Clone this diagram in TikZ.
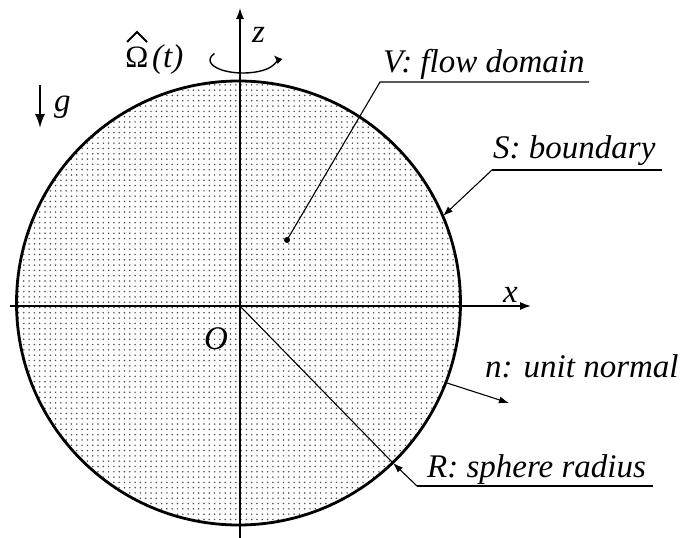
\documentclass[tikz,border=0pt]{standalone}
\usepackage{fontspec}
\setmainfont{Liberation Serif}
\usetikzlibrary{arrows.meta,patterns}
\pgfdeclarepatternformonly{sdots}{\pgfqpoint{-1pt}{-1pt}}{\pgfqpoint{6.3pt}{6.3pt}}{\pgfqpoint{5.3pt}{5.3pt}}{%
  \pgfpathcircle{\pgfqpoint{2.6pt}{2.6pt}}{0.85pt}\pgfusepath{fill}}
\tikzset{
  lbl/.style={font=\fontsize{33}{36}\selectfont\itshape, inner sep=0pt, anchor=base west},
  axis/.style={line width=1.4pt, -{Latex[length=11pt,width=8pt]}},
  leader/.style={line width=1.1pt},
  pointer/.style={line width=1.1pt, -{Latex[length=10pt,width=7pt]}},
}
\begin{document}
\begin{tikzpicture}[x=1pt,y=-1pt]
\useasboundingbox (0,0) rectangle (681,538);
% sphere
\coordinate (C) at (238.5,303);
\draw[line width=2.8pt, pattern=sdots, pattern color=black!70] (C) circle[radius=222];
% axes
\coordinate (O) at (240,306);
\coordinate (xs) at (10,306);
\coordinate (xe) at (531,306);
\coordinate (zs) at (240,538);
\coordinate (ze) at (240,8);
\draw[axis] (xs) -- (xe);
\draw[axis] (zs) -- (ze);
\node[lbl] (xl) at (503,302) {x};
\node[lbl] (zl) at (252,42) {z};
\node[lbl] (Ol) at (204,349) {O};
% rotation
\coordinate (rot) at (243,60);
\draw[line width=1.4pt, -{Latex[length=9pt,width=7pt]}] ([shift={(-150:33 and 13)}]rot) arc[start angle=-150, end angle=-382, x radius=33, y radius=13];
\node[lbl, anchor=base, font=\fontsize{31}{33}\selectfont] (Om) at (137,67) {Ω};
\coordinate (h1) at (127,42);
\coordinate (h2) at (137,32);
\coordinate (h3) at (147,42);
\draw[line width=1.8pt, line join=miter] (h1) -- (h2) -- (h3);
\node[lbl] (tl) at (152,67) {(t)};
% gravity
\coordinate (gs) at (40,85);
\coordinate (ge) at (40,128);
\draw[line width=2pt, -{Latex[length=14pt,width=10pt]}] (gs) -- (ge);
\node[lbl] (gl) at (54,111) {g};
% V
\node[lbl] (Vl) at (383,72) {V: flow domain};
\coordinate (Vu1) at (380,82);
\coordinate (Vu2) at (589,82);
\coordinate (Vp) at (287,240);
\draw[leader] (Vu2) -- (Vu1) -- (Vp);
\fill (Vp) circle[radius=3];
% S
\node[lbl] (Sl) at (493,158) {S: boundary};
\coordinate (Su1) at (492,170);
\coordinate (Su2) at (662,170);
\coordinate (Sp) at (443,216);
\draw[leader] (Su2) -- (Su1);
\draw[pointer] (Su1) -- (Sp);
% n
\node[lbl] (nl) at (485,377) {n: unit normal};
\coordinate (ns) at (447,383);
\coordinate (ne) at (509,403);
\draw[pointer] (ns) -- (ne);
% R
\coordinate (Rp) at (393,463);
\draw[leader] (O) -- (Rp);
\node[lbl] (Rl) at (427,477) {R: sphere radius};
\coordinate (Ru1) at (417,486);
\coordinate (Ru2) at (653,486);
\draw[leader] (Ru2) -- (Ru1);
\draw[pointer] (Ru1) -- (Rp);
\end{tikzpicture}
\end{document}
